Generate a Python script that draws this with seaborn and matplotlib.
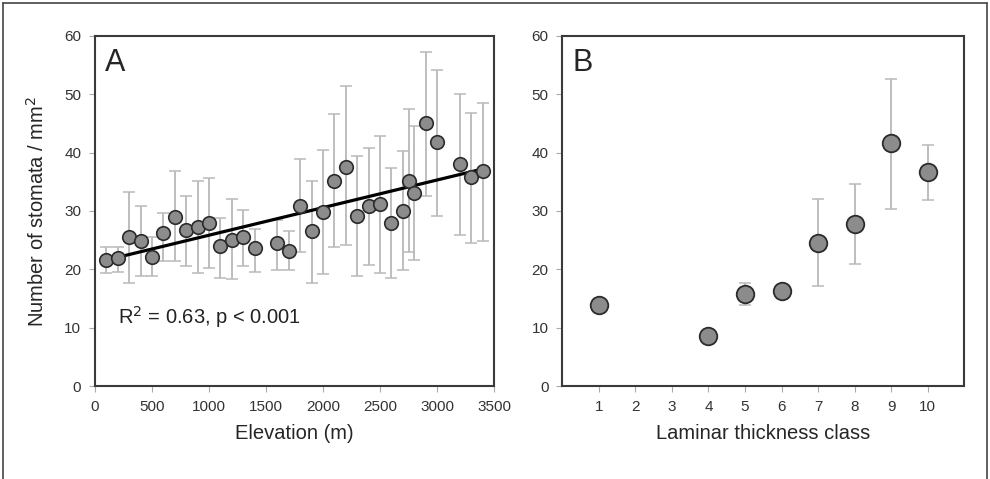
import numpy as np
import pandas as pd
import matplotlib
matplotlib.use("Agg")
import matplotlib.pyplot as plt
import seaborn as sns
from matplotlib.lines import Line2D

# panel A: stomata density vs elevation
elev = [100, 200, 300, 400, 500, 600, 700, 800, 900, 1000, 1100, 1200, 1300, 1400,
        1600, 1700, 1800, 1900, 2000, 2100, 2200, 2300, 2400, 2500, 2600, 2700,
        2750, 2800, 2900, 3000, 3200, 3300, 3400]
dens_mean = [21.6, 22.0, 25.5, 24.9, 22.1, 26.3, 28.9, 26.7, 27.2, 27.9, 24.0, 25.1, 25.5, 23.6,
             24.6, 23.2, 30.8, 26.5, 29.8, 35.2, 37.6, 29.2, 30.9, 31.2, 27.9, 30.0,
             35.2, 33.0, 45.0, 41.8, 38.0, 35.9, 36.8]
dens_upper = [23.8, 23.8, 33.3, 30.9, 25.6, 29.6, 36.9, 32.6, 35.2, 35.6, 28.8, 32.0, 30.2, 27.0,
              28.4, 26.6, 38.9, 35.2, 40.5, 46.7, 51.4, 39.5, 40.8, 42.9, 37.4, 40.2,
              47.4, 44.5, 57.3, 54.2, 50.1, 46.8, 48.5]
dens_lower = [19.3, 19.6, 17.6, 18.9, 18.9, 21.5, 21.4, 20.6, 19.3, 20.2, 18.6, 18.3, 20.6, 19.5,
              19.9, 19.9, 22.9, 17.6, 19.2, 23.9, 24.2, 18.9, 20.8, 19.3, 18.6, 19.9,
              22.9, 21.6, 32.5, 29.2, 25.9, 24.5, 24.9]
fit_x = [100, 3400]
fit_y = [21.6, 37.2]

# panel B: stomata density vs laminar thickness class
thick_cls = [1, 4, 5, 6, 7, 8, 9, 10]
thick_mean = [13.9, 8.5, 15.8, 16.3, 24.5, 27.8, 41.6, 36.7]
thick_upper = [13.9, 8.5, 17.6, 16.3, 32.0, 34.6, 52.7, 41.3]
thick_lower = [13.9, 8.5, 13.9, 16.3, 17.1, 21.0, 30.3, 31.9]

sns.set_style("ticks")
plt.rcParams['font.family'] = ['Liberation Sans', 'DejaVu Sans']

FACE = "#8c8c8c"
EDGE = "#2b2b2b"
ERR = "#b9b9b9"
SPINE = "#3a3a3a"

fig = plt.figure(figsize=(9.9, 4.79), dpi=100)
axA = fig.add_axes([0.096, 0.194, 0.403, 0.731])
axB = fig.add_axes([0.568, 0.194, 0.406, 0.731])

dfA = pd.DataFrame({"elev": elev, "mean": dens_mean, "lo": dens_lower, "hi": dens_upper})
dfB = pd.DataFrame({"cls": thick_cls, "mean": thick_mean, "lo": thick_lower, "hi": thick_upper})

# A
axA.errorbar(dfA.elev, dfA["mean"], yerr=[dfA["mean"] - dfA.lo, dfA.hi - dfA["mean"]],
             fmt="none", ecolor=ERR, elinewidth=1.3, capsize=4, capthick=1.1, zorder=1)
sns.lineplot(x=fit_x, y=fit_y, ax=axA, color="black", linewidth=2.3, zorder=2)
sns.scatterplot(data=dfA, x="elev", y="mean", ax=axA, s=95, color=FACE,
                edgecolor=EDGE, linewidth=1.2, zorder=3)
axA.set_xlim(0, 3500)
axA.set_ylim(0, 60)
axA.set_xticks(np.arange(0, 3501, 500))
axA.set_yticks(np.arange(0, 61, 10))
axA.set_xlabel("Elevation (m)", fontsize=14.5, labelpad=7)
axA.set_ylabel("Number of stomata / mm$^2$", fontsize=14.5, labelpad=12)
axA.text(0.025, 0.965, "A", transform=axA.transAxes, fontsize=22, va="top", ha="left")
axA.text(200, 10.6, "R$^2$ = 0.63, p < 0.001", fontsize=14.5, color="#222222")

# B
axB.errorbar(dfB.cls, dfB["mean"], yerr=[dfB["mean"] - dfB.lo, dfB.hi - dfB["mean"]],
             fmt="none", ecolor=ERR, elinewidth=1.3, capsize=4, capthick=1.1, zorder=1)
sns.scatterplot(data=dfB, x="cls", y="mean", ax=axB, s=160, color=FACE,
                edgecolor=EDGE, linewidth=1.3, zorder=3)
axB.set_xlim(0, 11)
axB.set_ylim(0, 60)
axB.set_xticks(range(1, 11))
axB.set_yticks(np.arange(0, 61, 10))
axB.set_xlabel("Laminar thickness class", fontsize=14.5, labelpad=7)
axB.set_ylabel("")
axB.text(0.025, 0.965, "B", transform=axB.transAxes, fontsize=22, va="top", ha="left")

for ax in (axA, axB):
    for sp in ax.spines.values():
        sp.set_color(SPINE)
        sp.set_linewidth(1.5)
        sp.set_visible(True)
    ax.tick_params(direction="out", length=4, width=0.8, color="#aaaaaa",
                   labelsize=11, labelcolor="#333333", pad=6)

# outer frame (open at the bottom)
for xs, ys in [([0.003, 0.003], [0.0, 0.994]), ([0.003, 0.997], [0.994, 0.994]),
               ([0.997, 0.997], [0.994, 0.0])]:
    fig.add_artist(Line2D(xs, ys, transform=fig.transFigure, color="#444444", linewidth=1.2))

plt.savefig("out.png", dpi=100)
